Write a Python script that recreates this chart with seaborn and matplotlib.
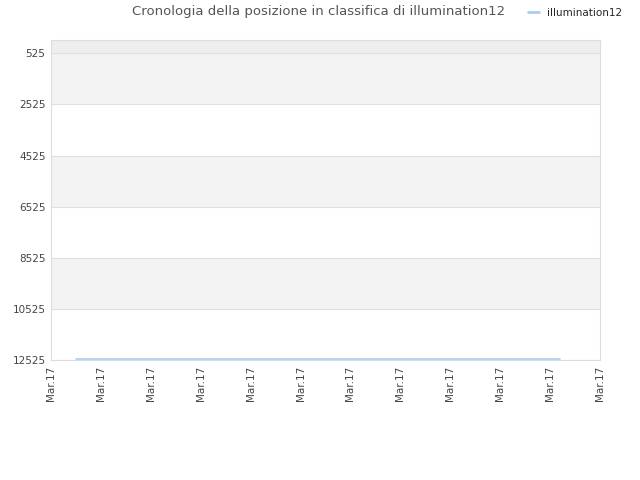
import numpy as np
import pandas as pd
import matplotlib
matplotlib.use("Agg")
import matplotlib.pyplot as plt
import seaborn as sns

player = "illumination12"
tick_labels = ["Mar.17"] * 12
tick_pos = list(range(12))
line_x = [0.5, 2.0, 4.0, 6.0, 8.0, 10.2]
line_rank = [12480, 12480, 12480, 12480, 12480, 12480]
y_ticks = [525, 2525, 4525, 6525, 8525, 10525, 12525]

sns.set_style("white")
plt.rcParams['font.family'] = ['DejaVu Sans']

fig = plt.figure(figsize=(6.4, 4.8), dpi=100)
ax = fig.add_axes([0.0797, 0.25, 0.8578, 0.6667])

# alternating bands between grid lines
ax.axhspan(0, 525, color="#eeeeee", lw=0)
for i in range(len(y_ticks) - 1):
    if i % 2 == 0:
        ax.axhspan(y_ticks[i], y_ticks[i + 1], color="#f3f3f3", lw=0)
for y in y_ticks:
    ax.axhline(y, color="#e0e0e0", lw=0.8)

df = pd.DataFrame({"x": line_x, "rank": line_rank})
sns.lineplot(data=df, x="x", y="rank", ax=ax, color="#a8cdf0", lw=1.2, label=player)

ax.set_xlim(0, 11)
ax.set_ylim(12525, 0)
ax.set_yticks(y_ticks)
ax.set_yticklabels([str(v) for v in y_ticks], fontsize=7.5, color="#444444")
ax.set_xticks(tick_pos)
ax.set_xticklabels(tick_labels, rotation=90, fontsize=7.5, color="#444444")
ax.tick_params(axis="both", length=0, pad=4)
ax.set_xlabel("")
ax.set_ylabel("")
for s in ax.spines.values():
    s.set_color("#dddddd")
    s.set_linewidth(0.8)

leg = ax.legend(loc="center", bbox_to_anchor=(0.955, 1.085), frameon=False,
                fontsize=7.5, handlelength=1.0, handletextpad=0.8)
for line in leg.get_lines():
    line.set_linewidth(2)

fig.text(0.497, 0.975, "Cronologia della posizione in classifica di illumination12",
         ha="center", va="center", fontsize=9.5, color="#555555")

fig.savefig("out.png", dpi=100)
